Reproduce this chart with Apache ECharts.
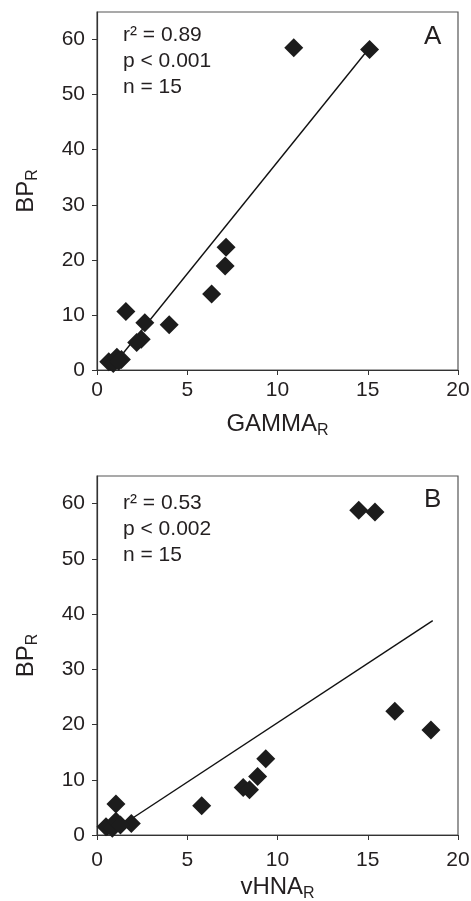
<!DOCTYPE html>
<html>
<head>
<meta charset="utf-8">
<script src="https://cdn.jsdelivr.net/npm/echarts@6/dist/echarts.min.js"></script>
<style>
html,body{margin:0;padding:0;background:#fff;}
#c{width:471px;height:901px;}
</style>
</head>
<body>
<div id="c"></div>
<script>
// Panel A: GAMMA_R vs BP_R
const gammaR = [10.9, 15.1, 7.15, 7.1, 6.35, 1.6, 2.65, 4.0, 2.45, 2.2, 0.65, 0.9, 1.1, 1.35, 1.2];
const bpA    = [58.5, 58.2, 22.3, 18.9, 13.8, 10.6, 8.6, 8.2, 5.6, 5.0, 1.5, 1.2, 2.3, 1.9, 1.6];
const fitAx = [0.7, 15.1];
const fitAy = [0, 58.5];
// Panel B: vHNA_R vs BP_R
const vhnaR = [14.5, 15.4, 16.5, 18.5, 9.35, 8.9, 8.1, 8.45, 5.8, 1.05, 0.5, 0.85, 1.05, 1.9, 1.3];
const bpB   = [58.8, 58.5, 22.4, 19.0, 13.8, 10.6, 8.6, 8.2, 5.3, 5.6, 1.5, 1.2, 2.5, 2.1, 1.8];
const fitBx = [0.55, 18.6];
const fitBy = [0, 38.8];
// ticks / labels
const xTicks = [0, 5, 10, 15, 20];
const yTicks = [0, 10, 20, 30, 40, 50, 60];
const statsA = ['r\u00B2 = 0.89', 'p < 0.001', 'n = 15'];
const statsB = ['r\u00B2 = 0.53', 'p < 0.002', 'n = 15'];
const xNames = ['GAMMA', 'vHNA'];
const panelTags = ['A', 'B'];

const TXT = '#231f20';
const FONT = '"Liberation Sans", Arial, Helvetica, sans-serif';

function zip(a, b) { return a.map((v, i) => [v, b[i]]); }

const nameRich = {
  m: { fontSize: 24, lineHeight: 28, color: TXT, fontFamily: FONT },
  s: { fontSize: 16, lineHeight: 16, color: TXT, fontFamily: FONT, padding: [14, 0, 0, 0] }
};

function xAxis(idx, name, margin, gap) {
  return {
    type: 'value', gridIndex: idx, min: 0, max: 20, interval: 5,
    name: '{m|' + name + '}{s|R}', nameLocation: 'middle', nameGap: gap,
    nameTextStyle: { rich: nameRich },
    axisLine: { show: true, onZero: false, lineStyle: { color: '#333', width: 1.2 } },
    axisTick: { show: true, inside: false, length: 5, lineStyle: { color: '#333' } },
    axisLabel: { margin: margin, fontSize: 21, color: TXT, fontFamily: FONT,
      customValues: xTicks },
    splitLine: { show: false }
  };
}
function yAxis(idx) {
  return {
    type: 'value', gridIndex: idx, min: 0, max: 65, interval: 10,
    name: '{m|BP}{s|R}', nameLocation: 'middle', nameGap: 57,
    nameTextStyle: { rich: nameRich },
    axisLine: { show: true, onZero: false, lineStyle: { color: '#333', width: 1.2 } },
    axisTick: { show: true, inside: false, length: 5, lineStyle: { color: '#333' }, customValues: yTicks },
    axisLabel: { margin: 12, fontSize: 21, color: TXT, fontFamily: FONT,
      customValues: yTicks },
    splitLine: { show: false }
  };
}

function statText(lines, top, tag, tagTop) {
  const els = lines.map((t, i) => ({
    type: 'text', left: 123, top: top + i * 26,
    style: { text: t, fontSize: 21, fill: TXT, fontFamily: FONT }
  }));
  els.push({ type: 'text', left: 424, top: tagTop,
    style: { text: tag, fontSize: 26, fill: TXT, fontFamily: FONT } });
  return els;
}

const chart = echarts.init(document.getElementById('c'), null, { renderer: 'canvas' });
chart.setOption({
  backgroundColor: '#fff',
  animation: false,
  grid: [
    { left: 97, right: 13, top: 12, height: 358, show: true, borderColor: '#555', borderWidth: 1.2,
      outerBoundsMode: 'none', containLabel: false },
    { left: 97, right: 13, top: 476, height: 359, show: true, borderColor: '#555', borderWidth: 1.2,
      outerBoundsMode: 'none', containLabel: false }
  ],
  xAxis: [xAxis(0, xNames[0], 10, 40), xAxis(1, xNames[1], 15, 34)],
  yAxis: [yAxis(0), yAxis(1)],
  graphic: statText(statsA, 25, panelTags[0], 24).concat(statText(statsB, 493, panelTags[1], 487)),
  series: [
    { type: 'line', xAxisIndex: 0, yAxisIndex: 0, data: zip(fitAx, fitAy), symbol: 'none',
      lineStyle: { color: '#111', width: 1.4 }, z: 2 },
    { type: 'scatter', xAxisIndex: 0, yAxisIndex: 0, data: zip(gammaR, bpA), symbol: 'diamond',
      symbolSize: 19, itemStyle: { color: '#1c1c1c', opacity: 1 }, z: 3 },
    { type: 'line', xAxisIndex: 1, yAxisIndex: 1, data: zip(fitBx, fitBy), symbol: 'none',
      lineStyle: { color: '#111', width: 1.4 }, z: 2 },
    { type: 'scatter', xAxisIndex: 1, yAxisIndex: 1, data: zip(vhnaR, bpB), symbol: 'diamond',
      symbolSize: 19, itemStyle: { color: '#1c1c1c', opacity: 1 }, z: 3 }
  ]
});
</script>
</body>
</html>
